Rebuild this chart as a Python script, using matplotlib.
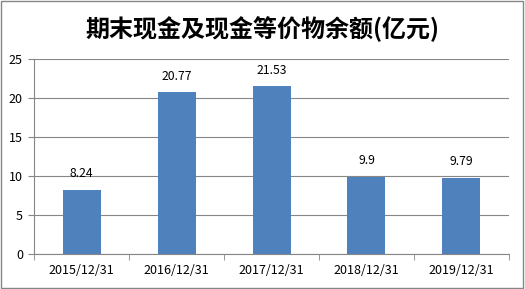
import matplotlib.pyplot as plt
from matplotlib.patches import Rectangle

plt.rcParams['font.family'] = ['Noto Sans CJK SC', 'DejaVu Sans']

# Data
dates = ["2015/12/31", "2016/12/31", "2017/12/31", "2018/12/31", "2019/12/31"]
values = [8.24, 20.77, 21.53, 9.9, 9.79]
labels = ["8.24", "20.77", "21.53", "9.9", "9.79"]

fig = plt.figure(figsize=(5.25, 2.89), dpi=100)
ax = fig.add_axes([0.0648, 0.1211, 0.9047, 0.6747])

x = list(range(len(dates)))
bars = ax.bar(x, values, width=0.4, color="#4f81bd", zorder=3)
for xi, v, t in zip(x, values, labels):
    ax.text(xi, v + 1.2, t, ha="center", va="bottom", fontsize=8.8, color="#000000")

ax.set_xlim(-0.5, len(dates) - 0.5)
ax.set_ylim(0, 25)
ax.set_yticks([0, 5, 10, 15, 20, 25])
ax.set_xticks(x)
ax.set_xticklabels(dates, fontsize=9)
ax.set_xticks([i - 0.5 for i in range(len(dates) + 1)], minor=True)
ax.tick_params(axis="x", which="major", length=0, pad=7)
ax.tick_params(axis="x", which="minor", length=4, color="#868686")
ax.tick_params(axis="y", length=4, color="#868686", labelsize=9, pad=4)
ax.yaxis.grid(True, color="#868686", linewidth=0.8, zorder=0)

for side in ["top", "right"]:
    ax.spines[side].set_visible(False)
ax.spines["left"].set_color("#868686")
ax.spines["bottom"].set_color("#868686")

fig.text(0.5, 0.90, "期末现金及现金等价物余额(亿元)", ha="center", va="center",
         fontsize=17.3, fontweight="bold")

fig.patches.append(Rectangle((0.002, 0.003), 0.995, 0.993, transform=fig.transFigure,
                             fill=False, edgecolor="#868686", linewidth=1))

plt.savefig("out.png", dpi=100)
